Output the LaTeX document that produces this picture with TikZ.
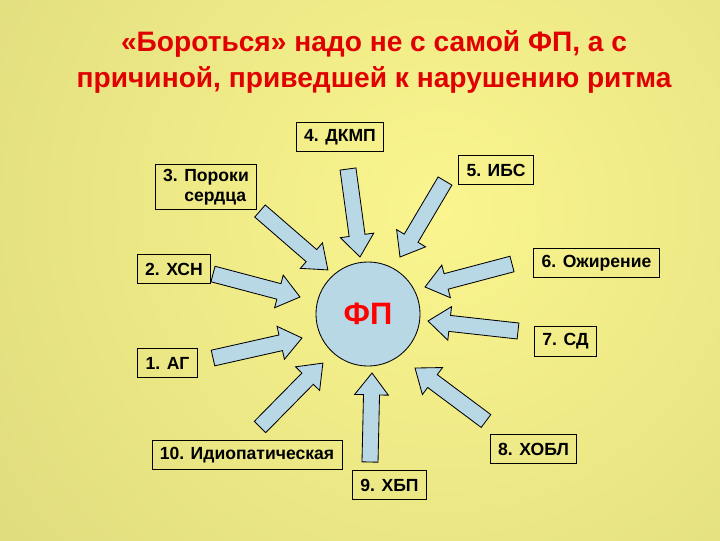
\documentclass[tikz,border=0pt]{standalone}
\usepackage{fontspec}
\setmainfont{Liberation Sans}
\usetikzlibrary{calc}
\definecolor{bginner}{HTML}{FAF58E}
\definecolor{bgouter}{HTML}{CFCD74}
\definecolor{paleblue}{HTML}{B9D8E6}
\definecolor{titlered}{HTML}{E00000}
\newcommand\blockarrow[2]{%
  \draw[causearrow] let \p1=(#1), \p2=(#2),
    \n1={atan2(\y2-\y1,\x2-\x1)}, \n2={veclen(\x2-\x1,\y2-\y1)} in
    [shift={(\p1)}, rotate=\n1]
    (0pt,-5.7pt) -- ({\n2*1pt-15.5pt},-5.7pt) -- ({\n2*1pt-15.5pt},-12pt)
    -- ({\n2*1pt},0pt) -- ({\n2*1pt-15.5pt},12pt) -- ({\n2*1pt-15.5pt},5.7pt)
    -- (0pt,5.7pt) -- cycle;}
\begin{document}
\begin{tikzpicture}[x=0.025cm,y=-0.025cm,
    causebox/.style={draw,line width=0.6pt,inner xsep=5.5pt,minimum height=21pt,
      font=\bfseries\fontsize{12.5}{14.5}\selectfont},
    causearrow/.style={draw=black,fill=paleblue,line width=0.6pt},
    titletext/.style={text=titlered,align=center,
      font=\bfseries\fontsize{20}{25.6}\selectfont}]
    \useasboundingbox (0,0) rectangle (720,540);
    \begin{scope}
        \clip (0,0) rectangle (720,540);
        \shade[inner color=bginner,outer color=bgouter] (440,210) circle (900);
    \end{scope}

    \node[titletext] (title) at (374,62) {«Бороться» надо не с самой ФП, а с\\причиной, приведшей к нарушению ритма};

    \node[circle,draw,line width=0.6pt,fill=paleblue,minimum size=74pt,inner sep=0pt,
      text=red,font=\bfseries\fontsize{22}{26}\selectfont] (fp) at (368,314) {ФП};

    \node[causebox] (ag) at (167.5,363) {1. АГ};
    \node[causebox] (hsn) at (174,269) {2. ХСН};
    \node[causebox,align=left] (poroki) at (206,187) {3. Пороки\\\hspace*{1.2em}сердца};
    \node[causebox] (dkmp) at (340,137) {4. ДКМП};
    \node[causebox] (ibs) at (496,170) {5. ИБС};
    \node[causebox] (ozhir) at (596.5,263) {6. Ожирение};
    \node[causebox] (sd) at (565.5,341.5) {7. СД};
    \node[causebox] (hobl) at (533.5,449) {8. ХОБЛ};
    \node[causebox] (hbp) at (389.5,485) {9. ХБП};
    \node[causebox] (idio) at (247,455) {10. Идиопатическая};

    \coordinate (t1) at (213,358);  \coordinate (h1) at (302,338);
    \coordinate (t2) at (213,274);  \coordinate (h2) at (300,297);
    \coordinate (t3) at (260,211);  \coordinate (h3) at (328,270);
    \coordinate (t4) at (348,169);  \coordinate (h4) at (360,257);
    \coordinate (t5) at (445,181);  \coordinate (h5) at (400,257);
    \coordinate (t6) at (512,264);  \coordinate (h6) at (425,287);
    \coordinate (t7) at (518,331);  \coordinate (h7) at (428,321);
    \coordinate (t8) at (486,421);  \coordinate (h8) at (415,368);
    \coordinate (t9) at (370,462);  \coordinate (h9) at (372,373);
    \coordinate (t10) at (260,427); \coordinate (h10) at (323,363);

    \blockarrow{t1}{h1}
    \blockarrow{t2}{h2}
    \blockarrow{t3}{h3}
    \blockarrow{t4}{h4}
    \blockarrow{t5}{h5}
    \blockarrow{t6}{h6}
    \blockarrow{t7}{h7}
    \blockarrow{t8}{h8}
    \blockarrow{t9}{h9}
    \blockarrow{t10}{h10}
\end{tikzpicture}
\end{document}
